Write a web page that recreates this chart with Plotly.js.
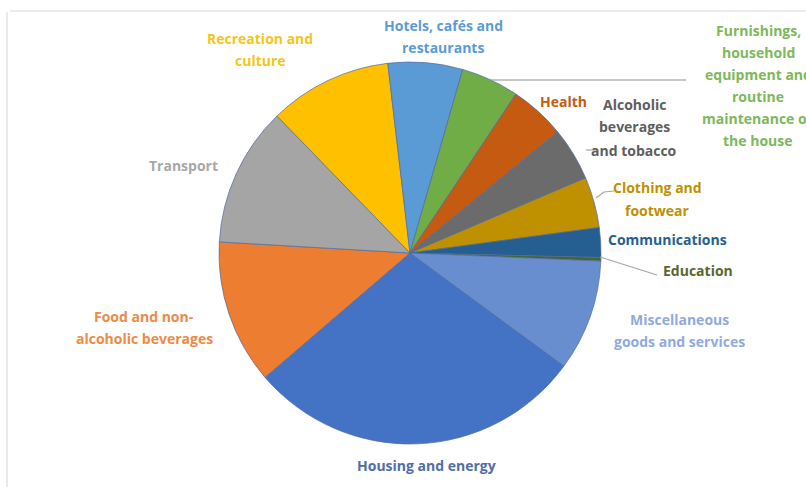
<!DOCTYPE html>
<html>
<head>
<meta charset="utf-8">
<script src="https://cdn.plot.ly/plotly-3.0.1.min.js"></script>
<style>html,body{margin:0;padding:0;background:#fff;}#chart{width:806px;height:487px;}</style>
</head>
<body>
<div id="chart"></div>
<script>
// Data
const categories = ["Housing and energy", "Food and non-alcoholic beverages", "Transport", "Recreation and culture",
  "Hotels, cafés and restaurants", "Furnishings, household equipment and routine maintenance of the house",
  "Health", "Alcoholic beverages and tobacco", "Clothing and footwear", "Communications", "Education",
  "Miscellaneous goods and services"];
const shares = [28.6, 12.2, 11.8, 10.4, 6.3, 4.9, 4.7, 4.5, 4.3, 2.5, 0.3, 9.4];
const sliceColors = ["#4472C4", "#ED7D31", "#A5A5A5", "#FFC000", "#5B9BD5", "#70AD47",
  "#C55A11", "#6B6B6B", "#BF9000", "#255E91", "#43682B", "#698ED0"];
// label lines as displayed
const labelLines = [
  ["Housing and energy"],
  ["Food and non-", "alcoholic beverages"],
  ["Transport"],
  ["Recreation and", "culture"],
  ["Hotels, cafés and", "restaurants"],
  ["Furnishings,", "household", "equipment and", "routine", "maintenance of", "the house"],
  ["Health"],
  ["Alcoholic", "beverages", "and tobacco"],
  ["Clothing and", "footwear"],
  ["Communications"],
  ["Education"],
  ["Miscellaneous", "goods and services"]
];
const labelColors = ["#4F6EA6", "#EE8A45", "#A8A8A8", "#F5C518", "#5B9BD5", "#7DB85A",
  "#C55A11", "#5E5E5E", "#BF9000", "#255E91", "#5A6630", "#8FAADC"];

// Layout positions (pixels) for label first-line centres
const W = 806, H = 487;
const labelPos = [[426, 465], [144, 316], [183, 165], [260, 38], [443, 25], [758, 30],
  [563, 101], [634, 104], [657, 188], [667, 239], [698, 270], [679, 319]];
const lineGap = [22, 22, 22, 22, 22, 22, 22, 23, 22, 22, 22, 22];

const px = x => x / W, py = y => 1 - y / H;

const annotations = [];
labelLines.forEach((lines, i) => {
  lines.forEach((t, j) => {
    annotations.push({
      xref: 'paper', yref: 'paper', x: px(labelPos[i][0]), y: py(labelPos[i][1] + j * lineGap[i]),
      text: t, showarrow: false, xanchor: 'center', yanchor: 'middle',
      font: {family: 'Open Sans, sans-serif', size: 14, color: labelColors[i], weight: 700}
    });
  });
});

const line = (x0, y0, x1, y1, c) => ({type: 'line', xref: 'paper', yref: 'paper',
  x0: px(x0), y0: py(y0), x1: px(x1), y1: py(y1), line: {color: c, width: 1.2}});

const shapes = [
  line(10, 11, 806, 11, '#D9D9D9'),
  line(7, 12, 7, 487, '#DDDDDD'),
  line(490, 80, 686, 80, '#8C8C8C'),
  line(586, 150, 596, 150, '#A6A6A6'),
  line(596, 198, 604, 192, '#A6A6A6'),
  line(604, 192, 614, 191, '#A6A6A6'),
  line(600, 257, 657, 275, '#A6A6A6')
];

const cx = 410, cy = 253, r = 191;
const trace = {
  type: 'pie', labels: categories, values: shares, sort: false, direction: 'clockwise',
  rotation: 126.3, textinfo: 'none', hoverinfo: 'label+percent',
  marker: {colors: sliceColors, line: {color: 'rgba(80,105,160,0.7)', width: 1}},
  domain: {x: [(cx - r) / W, (cx + r) / W], y: [1 - (cy + r) / H, 1 - (cy - r) / H]},
  showlegend: false
};

Plotly.newPlot('chart', [trace], {
  width: W, height: H, margin: {l: 0, r: 0, t: 0, b: 0},
  paper_bgcolor: '#ffffff', showlegend: false,
  annotations: annotations, shapes: shapes
}, {staticPlot: true});
</script>
</body>
</html>
